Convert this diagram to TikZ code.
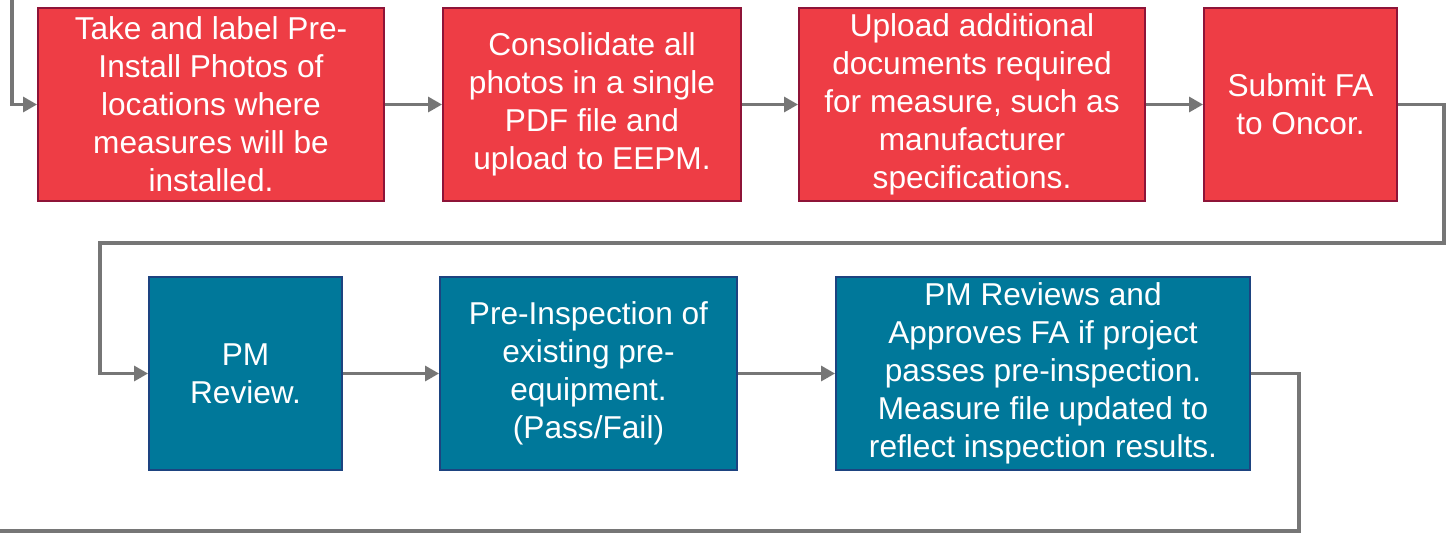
\documentclass[tikz,border=0pt]{standalone}
\usepackage{fontspec}
\setmainfont{Liberation Sans}
\usetikzlibrary{arrows.meta}
\definecolor{redfill}{HTML}{EE3D45}
\definecolor{redline}{HTML}{8E1438}
\definecolor{bluefill}{HTML}{00789A}
\definecolor{blueline}{HTML}{1D4380}
\definecolor{conn}{HTML}{767676}
\tikzset{
  box/.style={draw, line width=1.1pt, text=white, align=center, inner sep=0pt,
    font=\fontsize{18}{21.6}\selectfont},
  redbox/.style={box, fill=redfill, draw=redline},
  bluebox/.style={box, fill=bluefill, draw=blueline},
  conn/.style={draw=conn, line width=1.8pt, -{Triangle[length=0.28cm,width=0.3cm]}},
  connplain/.style={draw=conn, line width=1.8pt}
}
\begin{document}
\begin{tikzpicture}[x=0.02cm,y=-0.02cm]
\useasboundingbox (0,0) rectangle (1454,535);
% row 1
\node[redbox, minimum width=346*0.02cm, minimum height=193*0.02cm] (b1) at (211,104.5)
  {\rule{0pt}{0.06cm}Take and label Pre-\\Install Photos of\\locations where\\measures will be\\installed.};
\node[redbox, minimum width=298*0.02cm, minimum height=193*0.02cm] (b2) at (592,104.5)
  {\rule{0pt}{0.06cm}Consolidate all\\photos in a single\\PDF file and\\upload to EEPM.};
\node[redbox, minimum width=346*0.02cm, minimum height=193*0.02cm] (b3) at (972,104.5)
  {Upload additional\\documents required\\for measure, such as\\manufacturer\\specifications.};
\node[redbox, minimum width=193*0.02cm, minimum height=193*0.02cm] (b4) at (1300.5,104.5)
  {Submit FA\\to Oncor.};
% row 2
\node[bluebox, minimum width=193*0.02cm, minimum height=193*0.02cm] (b5) at (245.5,373.5)
  {PM\\Review.};
\node[bluebox, minimum width=297*0.02cm, minimum height=193*0.02cm] (b6) at (588.5,373.5)
  {Pre-Inspection of\\existing pre-\\equipment.\\(Pass/Fail)};
\node[bluebox, minimum width=414*0.02cm, minimum height=193*0.02cm] (b7) at (1043,373.5)
  {PM Reviews and\\Approves FA if project\\passes pre-inspection.\\Measure file updated to\\reflect inspection results.};
% connectors
\coordinate (s) at (12,0);
\coordinate (c1) at (1444,243);
\coordinate (c2) at (100,243);
\coordinate (c3) at (1299,531);
\coordinate (e) at (0,531);
\draw[conn] (s) |- (b1.west);
\draw[conn] (b1) -- (b2);
\draw[conn] (b2) -- (b3);
\draw[conn] (b3) -- (b4);
\draw[conn] (b4.east) -| (c1) -- (c2) |- (b5.west);
\draw[conn] (b5) -- (b6);
\draw[conn] (b6) -- (b7);
\draw[connplain] (b7.east) -| (c3) -- (e);
\end{tikzpicture}
\end{document}
